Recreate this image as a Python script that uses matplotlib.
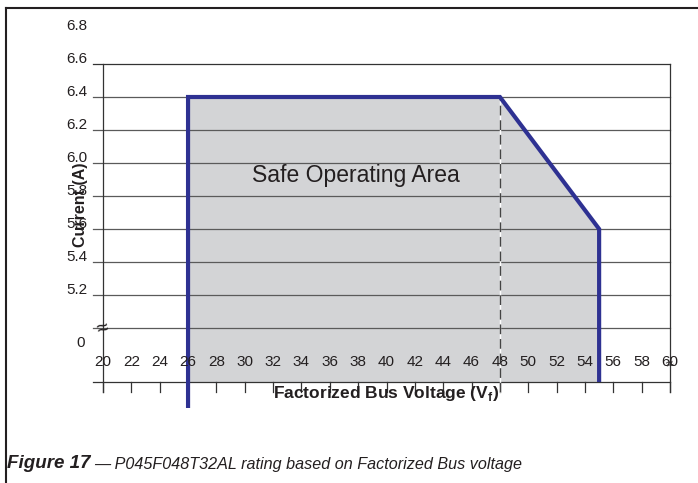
import matplotlib
matplotlib.use("Agg")
import matplotlib.pyplot as plt
from matplotlib.patches import Polygon
from matplotlib.lines import Line2D

plt.rcParams['font.family'] = ['Liberation Sans', 'DejaVu Sans']

# ---- data ----
voltage = [26, 26, 48, 55, 55]          # V (factorized bus voltage)
current = [0, 6.4, 6.4, 5.6, 0]         # A
knee_voltage = 48
x_ticks = list(range(20, 61, 2))
y_grid = [5.0, 5.2, 5.4, 5.6, 5.8, 6.0, 6.2, 6.4, 6.6]
y_tick_values = [5.2, 5.4, 5.6, 5.8, 6.0, 6.2, 6.4, 6.6, 6.8]
y_tick_labels = ["5.2", "5.4", "5.6", "5.8", "6.0", "6.2", "6.4", "6.6", "6.8"]
zero_label = "0"

# broken axis: values below the break are drawn at the floor
Y_FLOOR = 4.6727
Y_TOP = 6.6
def ymap(v):
    return v if v >= 5.0 else Y_FLOOR

W, H = 698, 483
fig = plt.figure(figsize=(W / 100, H / 100), dpi=100)
ax = fig.add_axes([103 / W, (H - 382) / H, 567 / W, 318 / H])
ax.set_xlim(20, 60)
ax.set_ylim(Y_FLOOR, Y_TOP)
ax.axis('off')

px_x = 40 / 567.0   # data units per pixel in x
px_y = (Y_TOP - Y_FLOOR) / 318.0

# shaded safe operating area
pts = [(v, ymap(c)) for v, c in zip(voltage, current)]
ax.add_patch(Polygon(pts, closed=True, facecolor='#d3d4d6', edgecolor='none', zorder=1))

# horizontal grid lines (extend left of the axis)
grid_c = '#5a5a5a'
for g in y_grid:
    c = '#333333' if g == Y_TOP else grid_c
    ax.add_line(Line2D([20 - 10 * px_x, 60], [g, g], color=c, lw=0.9,
                       clip_on=False, zorder=2))
# bottom line
ax.add_line(Line2D([20 - 10 * px_x, 60], [Y_FLOOR, Y_FLOOR], color='#333333', lw=0.9,
                   clip_on=False, zorder=2))
# left and right axis lines
for xv in (20, 60):
    ax.add_line(Line2D([xv, xv], [Y_FLOOR - 10 * px_y, Y_TOP], color='#333333', lw=0.9,
                       clip_on=False, zorder=2))
# bottom ticks
for t in x_ticks:
    ax.add_line(Line2D([t, t], [Y_FLOOR, Y_FLOOR - 10 * px_y], color='#333333', lw=0.9,
                       clip_on=False, zorder=2))

# dashed line at knee
ax.add_line(Line2D([knee_voltage, knee_voltage], [Y_FLOOR - 10 * px_y, 6.4], color='white',
                   lw=1.0, clip_on=False, zorder=2.5))
ax.add_line(Line2D([knee_voltage, knee_voltage], [Y_FLOOR - 10 * px_y, 6.4], color='#444444',
                   lw=1.0, dashes=(7, 3.5), clip_on=False, zorder=2.6))

# boundary
bx = [v for v in voltage]
by = [ymap(c) for c in current]
by[0] = Y_FLOOR - 26 * px_y
ax.plot(bx, by, color='#2e3192', lw=3.0, solid_joinstyle='miter', solid_capstyle='butt',
        clip_on=False, zorder=3)

# y tick labels
for v, lab in zip(y_tick_values, y_tick_labels):
    ax.text(20 - 16 * px_x, v + 5 * px_y, lab, ha='right', va='center', fontsize=11,
            color='#231f20', clip_on=False)
ax.text(20 - 18 * px_x, 5.0 - 15 * px_y, zero_label, ha='right', va='center', fontsize=11,
        color='#231f20', clip_on=False)

# x tick labels (inside plot)
for t in x_ticks:
    ax.text(t, 5.0 - 34 * px_y, str(t), ha='center', va='center', fontsize=11,
            color='#231f20', zorder=4)

# break symbols
ax.text(20, 5.0 - 1 * px_y, '≈', ha='center', va='center', fontsize=15, color='#231f20',
        rotation=15, clip_on=False, zorder=5)
ax.text(60, 5.0 - 36 * px_y, '≈', ha='center', va='center', fontsize=10, color='#231f20',
        rotation=15, clip_on=False, zorder=5)

# annotation
ax.text(37.85, 5.927, 'Safe Operating Area', ha='center', va='center', fontsize=16.5,
        color='#231f20', zorder=4)

# axis labels
ax.text(20 - 23 * px_x, 5.927 - 30 * px_y, 'Current (A)', rotation=90, ha='center', va='center',
        fontsize=11.5, fontweight='bold', color='#231f20', clip_on=False, zorder=5)
ax.text(39.95, Y_FLOOR - 11 * px_y, r'Factorized Bus Voltage (V$_\mathregular{f}$)', ha='center',
        va='center', fontsize=12.5, fontweight='bold', color='#231f20', clip_on=False)

# frame (top and left)
fig.add_artist(Line2D([6 / W, 1], [1 - 7.5 / H, 1 - 7.5 / H], color='#231f20', lw=1.5))
fig.add_artist(Line2D([6 / W, 6 / W], [0, 1 - 7.5 / H], color='#231f20', lw=1.5))

# caption
fig.text(7 / W, 1 - 464 / H, 'Figure 17', ha='left', va='center', fontsize=13.5,
         fontweight='bold', fontstyle='italic', color='#231f20')
fig.text(94 / W, 1 - 464 / H, '— P045F048T32AL rating based on Factorized Bus voltage',
         ha='left', va='center', fontsize=11.6, fontstyle='italic', color='#231f20')

fig.savefig('out.png', dpi=100)
